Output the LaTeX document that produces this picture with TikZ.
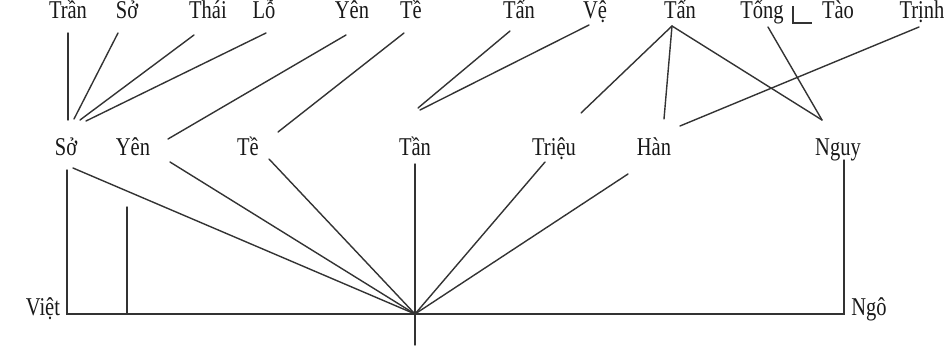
\documentclass[tikz,border=0pt]{standalone}
\usepackage{fontspec}
\setmainfont{Liberation Serif}
\newcommand{\tall}[1]{\scalebox{1}[1.25]{#1}}
\tikzset{
  lab/.style={anchor=base, inner sep=0pt, text=black!90, font=\fontsize{20.5}{24}\selectfont},
  ln/.style={line width=1.4pt, draw=black!80, line cap=round}
}
\begin{document}
\begin{tikzpicture}[x=1pt,y=-1pt]
\useasboundingbox (0,0) rectangle (945,348);
% top row
\node[lab] (tran)  at (68,19)  {\tall{Trần}};
\node[lab] (soA)   at (127,19) {\tall{Sở}};
\node[lab] (thai)  at (208,19) {\tall{Thái}};
\node[lab] (lo)    at (264,19) {\tall{Lỗ}};
\node[lab] (yenA)  at (352,19) {\tall{Yên}};
\node[lab] (teA)   at (411,19) {\tall{Tề}};
\node[lab] (tanA)  at (519,19) {\tall{Tấn}};
\node[lab] (ve)    at (595,19) {\tall{Vệ}};
\node[lab] (tanB)  at (680,19) {\tall{Tấn}};
\node[lab] (tong)  at (762,19) {\tall{Tống}};
\node[lab] (tao)   at (838,19) {\tall{Tào}};
\node[lab] (trinh) at (922,19) {\tall{Trịnh}};
% second row
\node[lab] (soB)   at (66,155)  {\tall{Sở}};
\node[lab] (yenB)  at (133,155) {\tall{Yên}};
\node[lab] (teB)   at (248,155) {\tall{Tề}};
\node[lab] (tan)   at (415,155) {\tall{Tần}};
\node[lab] (trieu) at (554,155) {\tall{Triệu}};
\node[lab] (han)   at (654,155) {\tall{Hàn}};
\node[lab] (nguy)  at (838,155) {\tall{Nguy}};
% bottom row
\node[lab] (viet)  at (43,315)  {\tall{Việt}};
\node[lab] (ngo)   at (869,315) {\tall{Ngô}};
% connector ends
\coordinate (tranS) at (68,33);   \coordinate (tranE) at (68,120);
\coordinate (soAS)  at (118,33);  \coordinate (soAE)  at (74,119);
\coordinate (thaiS) at (194,35);  \coordinate (thaiE) at (80,120);
\coordinate (loS)   at (266,33);  \coordinate (loE)   at (86,121);
\coordinate (yenAS) at (346,35);  \coordinate (yenAE) at (168,139);
\coordinate (teAS)  at (404,33);  \coordinate (teAE)  at (278,132);
\coordinate (tanAS) at (510,31);  \coordinate (tanAE) at (418,108);
\coordinate (veS)   at (589,25);  \coordinate (veE)   at (420,110);
\coordinate (apex)  at (672,26);
\coordinate (trieuT) at (581,113);
\coordinate (hanT)  at (664,119);
\coordinate (nguyT) at (822,120);
\coordinate (tongS) at (768,27);
\coordinate (trinhS) at (919,27); \coordinate (trinhE) at (680,126);
\coordinate (conv)  at (415,314);
\coordinate (soBV)  at (67,170);  \coordinate (corL)  at (67,314);
\coordinate (soBD)  at (73,168);
\coordinate (yenBD) at (170,162);
\coordinate (teBD)  at (269,159);
\coordinate (tanV)  at (415,164); \coordinate (tanE)  at (415,345);
\coordinate (trieuD) at (545,162);
\coordinate (hanD)  at (628,174);
\coordinate (nguyV) at (844,160); \coordinate (corR)  at (844,314);
\coordinate (midV)  at (127,207); \coordinate (midE)  at (127,314);
% top connectors
\draw[ln] (tranS) -- (tranE);
\draw[ln] (soAS) -- (soAE);
\draw[ln] (thaiS) -- (thaiE);
\draw[ln] (loS) -- (loE);
\draw[ln] (yenAS) -- (yenAE);
\draw[ln] (teAS) -- (teAE);
\draw[ln] (tanAS) -- (tanAE);
\draw[ln] (veS) -- (veE);
\draw[ln] (apex) -- (trieuT);
\draw[ln] (apex) -- (hanT);
\draw[ln] (apex) -- (nguyT);
\draw[ln] (tongS) -- (nguyT);
\draw[ln] (trinhS) -- (trinhE);
\draw[ln, line cap=butt] (793,6) -- (793,23) -- (812,23);
% lower connectors
\draw[ln] (soBV) -- (corL) -- (corR) -- (nguyV);
\draw[ln] (midV) -- (midE);
\draw[ln] (soBD) -- (conv);
\draw[ln] (yenBD) -- (conv);
\draw[ln] (teBD) -- (conv);
\draw[ln] (trieuD) -- (conv);
\draw[ln] (hanD) -- (conv);
\draw[ln] (tanV) -- (tanE);
\end{tikzpicture}
\end{document}
